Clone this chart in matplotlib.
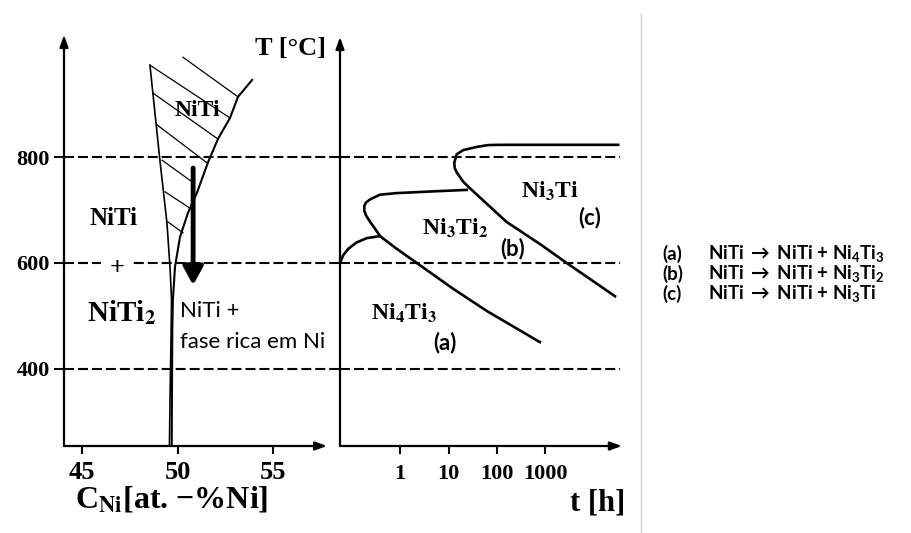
import matplotlib.pyplot as plt
from matplotlib.lines import Line2D
from matplotlib.ticker import NullLocator

plt.rcParams['mathtext.fontset'] = 'custom'
plt.rcParams['mathtext.rm'] = 'Lato'
plt.rcParams['mathtext.it'] = 'Lato:italic'
plt.rcParams['mathtext.bf'] = 'Lato:bold'

# niveis de temperatura (linhas tracejadas), em °C
T_niveis = [400, 600, 800]

# diagrama de fases: C_Ni [at.%] x T [°C]
esq_C = [48.55, 49.07, 49.44, 49.6, 49.68, 49.66, 49.6, 49.57]
esq_T = [975, 795, 676, 592, 530, 473, 340, 253]
dir_C = [53.9, 53.16, 52.74, 52.11, 51.59, 51.01, 50.54, 50.12, 49.86, 49.75, 49.72, 49.7, 49.69]
dir_T = [947, 915, 875, 835, 791, 733, 695, 649, 592, 530, 473, 340, 253]

# hachuras (inicio e fim de cada traco)
hach_C0 = [50.28, 48.55, 48.71, 48.92, 49.18, 49.34, 49.49]
hach_T0 = [990, 975, 922, 862, 795, 735, 678]
hach_C1 = [53.16, 52.74, 52.11, 51.53, 50.75, 50.64, 50.28]
hach_T1 = [915, 875, 835, 790, 754, 704, 657]

# seta de resfriamento
seta_C = 50.81
seta_T = [780, 558]

# curvas TTT: t [h] x T [°C]
a_t = [0.0565, 0.066, 0.084, 0.125, 0.20, 0.38]
a_T = [600, 615, 627, 639, 647, 651]
b_t = [23.7, 4.1, 0.84, 0.38, 0.236, 0.195, 0.18, 0.18, 0.195, 0.236, 0.30, 0.38,
       0.84, 2.2, 6.6, 12.5, 62, 776]
b_T = [738.6, 735.5, 732.5, 729.5, 720.5, 714.5, 708.4, 699.4, 690.4, 678.3, 665, 651,
       627, 600, 569, 551, 509, 450]
c_t = [32400, 107, 65.5, 38, 20.1, 14.7, 13.1, 13.4, 14.7, 20.1, 27.7, 158, 776, 2790, 27900]
c_T = [824, 824, 823.5, 820, 814, 806, 790, 780, 772, 754, 741.6, 678, 636, 600, 537]

xticks_C = [45, 50, 55]
xticks_t = [1, 10, 100, 1000]
xticks_t_lbl = ['1', '10', '100', '1000']

legenda = [('(a)', 'NiTi $\\mathbf{\\rightarrow}$ NiTi + Ni$_\\mathbf{4}$Ti$_\\mathbf{3}$'),
           ('(b)', 'NiTi $\\mathbf{\\rightarrow}$ NiTi + Ni$_\\mathbf{3}$Ti$_\\mathbf{2}$'),
           ('(c)', 'NiTi $\\mathbf{\\rightarrow}$ NiTi + Ni$_\\mathbf{3}$Ti')]

serif = dict(family='Liberation Serif', weight='bold', math_fontfamily='stix')
sans = dict(family='Lato', weight='bold', math_fontfamily='custom')

W, H = 912, 533
fig = plt.figure(figsize=(W / 100, H / 100), dpi=100)
axL = fig.add_axes([64 / W, 87 / H, 276 / W, 411 / H])
axR = fig.add_axes([340 / W, 87 / H, 285 / W, 411 / H])

for ax in (axL, axR):
    ax.set_ylim(253.1, 1032.2)
    ax.patch.set_visible(False)
    for s in ax.spines.values():
        s.set_visible(False)

axL.set_xlim(44.05, 58.5)
axR.set_xscale('log')
axR.set_xlim(0.0565, 44900)

# eixos com setas
seta_eixo = dict(arrowstyle='-|>,head_length=0.5,head_width=0.18', lw=1.6, color='k',
                 shrinkA=0, shrinkB=0, mutation_scale=14)
axL.annotate('', xy=(0, 1), xytext=(0, 0), xycoords='axes fraction', arrowprops=seta_eixo)
axL.annotate('', xy=(0.953, 0), xytext=(0, 0), xycoords='axes fraction', arrowprops=seta_eixo)
axR.annotate('', xy=(0, 0.995), xytext=(0, 0), xycoords='axes fraction', arrowprops=seta_eixo)
axR.annotate('', xy=(0.989, 0), xytext=(0, 0), xycoords='axes fraction', arrowprops=seta_eixo)

# ticks
axL.set_xticks(xticks_C)
axL.set_yticks(T_niveis)
axL.tick_params(axis='x', direction='out', length=6, width=1.5, pad=5, labelsize=19)
axL.tick_params(axis='y', direction='out', length=7, width=1.5, pad=3, labelsize=16)
for lb in axL.get_xticklabels() + axL.get_yticklabels():
    lb.set_fontfamily('Liberation Serif')
    lb.set_fontweight('bold')
axR.set_xticks(xticks_t)
axR.set_xticklabels(xticks_t_lbl)
axR.xaxis.set_minor_locator(NullLocator())
axR.set_yticks([])
axR.tick_params(axis='x', direction='out', length=6, width=1.5, pad=7, labelsize=16)
for lb in axR.get_xticklabels():
    lb.set_fontfamily('Liberation Serif')
    lb.set_fontweight('bold')

# linhas tracejadas
for T in T_niveis:
    axL.axhline(T, color='k', lw=1.5, ls=(0, (4.8, 1.9)))
    axR.axhline(T, xmax=0.982, color='k', lw=1.5, ls=(0, (4.8, 1.9)))

# diagrama de fases
axL.plot(esq_C, esq_T, color='k', lw=1.2)
axL.plot(dir_C, dir_T, color='k', lw=1.5)
for c0, t0, c1, t1 in zip(hach_C0, hach_T0, hach_C1, hach_T1):
    axL.plot([c0, c1], [t0, t1], color='k', lw=0.9)
axL.annotate('', xy=(seta_C, seta_T[1]), xytext=(seta_C, seta_T[0]),
             arrowprops=dict(arrowstyle='-|>,head_length=0.55,head_width=0.3', lw=3.5,
                             color='k', shrinkA=0, shrinkB=0, mutation_scale=20))

# curvas TTT
for tt, TT in ((a_t, a_T), (b_t, b_T), (c_t, c_T)):
    axR.plot(tt, TT, color='k', lw=1.9, solid_joinstyle='round')

# textos painel esquerdo
axL.text(51.01, 890, 'NiTi', fontsize=17, ha='center', va='center', **serif)
axL.text(46.66, 685, 'NiTi', fontsize=18, ha='center', va='center', **serif)
axL.text(46.82, 590, '+', fontsize=19, ha='center', va='center',
         bbox=dict(facecolor='white', edgecolor='none', pad=6), **serif)
axL.text(47.03, 505, 'NiTi$_\\mathbf{2}$', fontsize=21, ha='center', va='center', **serif)
axL.text(50.12, 509, 'NiTi +', fontsize=16, ha='left', va='center', family='Lato')
axL.text(50.12, 450, 'fase rica em Ni', fontsize=16, ha='left', va='center', family='Lato')
axL.text(0.819, 0.968, 'T [°C]', fontsize=19, ha='center', va='center',
         transform=axL.transAxes, **serif)
axL.text(0.391, -0.131, 'C$_\\mathbf{Ni}$[at. −%Ni]', fontsize=23, ha='center', va='center',
         transform=axL.transAxes, **serif)

# textos painel direito
axR.text(1260, 735, 'Ni$_\\mathbf{3}$Ti', fontsize=17, ha='center', va='center', **serif)
axR.text(13.6, 666, 'Ni$_\\mathbf{3}$Ti$_\\mathbf{2}$', fontsize=17, ha='center', va='center', **serif)
axR.text(1.19, 505, 'Ni$_\\mathbf{4}$Ti$_\\mathbf{3}$', fontsize=17, ha='center', va='center', **serif)
axR.text(8500, 687, '(c)', fontsize=16, ha='center', va='center', family='Lato', weight='bold')
axR.text(214, 628, '(b)', fontsize=16, ha='center', va='center', family='Lato', weight='bold')
axR.text(8.4, 450, '(a)', fontsize=16, ha='center', va='center', family='Lato', weight='bold')
axR.text(0.905, -0.139, 't [h]', fontsize=22, ha='center', va='center',
         transform=axR.transAxes, **serif)

# legenda
for i, (letra, reacao) in enumerate(legenda):
    y = 1 - (254 + 20 * i) / H
    fig.text(662 / W, y, letra, fontsize=13.5, ha='left', va='center', family='Lato', weight='bold')
    fig.text(708 / W, y, reacao, fontsize=13.5, ha='left', va='center', **sans)

# separador
fig.add_artist(Line2D([641 / W, 641 / W], [0, 1 - 14 / H], transform=fig.transFigure,
                      color='#d0d0d0', lw=1))

fig.savefig('out.png', dpi=100)
